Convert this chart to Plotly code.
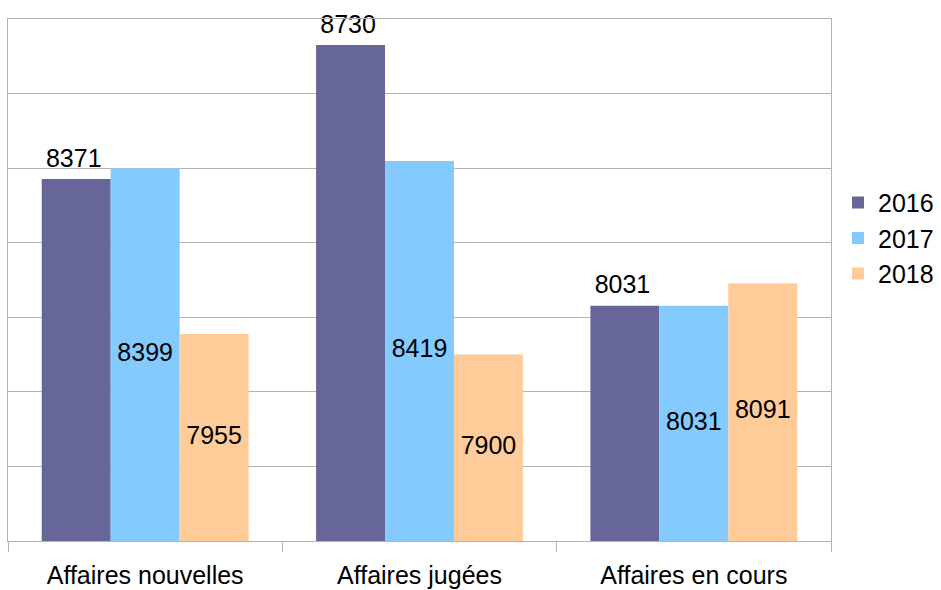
import plotly.graph_objects as go

categories = ["Affaires nouvelles", "Affaires jugées", "Affaires en cours"]
years = ["2016", "2017", "2018"]
values_2016 = [8371, 8730, 8031]
values_2017 = [8399, 8419, 8031]
values_2018 = [7955, 7900, 8091]
colors = ["#666699", "#83CAFF", "#FFCC99"]
y_min, y_max, y_step = 7400, 8800, 200

FONT = "Liberation Sans, Arial, sans-serif"
FS = 25
GAP = 0.246

series = [values_2016, values_2017, values_2018]

fig = go.Figure()
# bars (2016 labelled above its bars)
for i, (name, vals, col) in enumerate(zip(years, series, colors)):
    fig.add_trace(go.Bar(
        x=categories, y=vals, name=name,
        marker=dict(color=col, line=dict(width=0)),
        text=[str(v) + "<sub> </sub>" for v in vals] if i == 0 else None,
        textposition="outside" if i == 0 else "none",
        textfont=dict(family=FONT, size=FS, color="black"),
        cliponaxis=False,
    ))

# centred labels inside the 2017 and 2018 bars (grouped like the bars)
for i, (name, vals) in enumerate(zip(years, series)):
    fig.add_trace(go.Scatter(
        x=categories, y=[(y_min + v) / 2 for v in vals],
        mode="text",
        text=["" if i == 0 else str(v) for v in vals],
        textposition="middle center",
        textfont=dict(family=FONT, size=FS, color="black"),
        showlegend=False, hoverinfo="skip", name=name,
        cliponaxis=False,
    ))

fig.update_layout(
    width=941, height=590,
    margin=dict(l=7.5, r=110, t=18.5, b=49, autoexpand=False),
    barmode="group", bargap=GAP, bargroupgap=0,
    scattermode="group", scattergap=GAP,
    plot_bgcolor="white", paper_bgcolor="white",
    font=dict(family=FONT, size=FS, color="black"),
    showlegend=True,
    legend=dict(x=(838 - 7.5) / (941 - 7.5 - 110), y=0.58, yanchor="middle",
                font=dict(family=FONT, size=FS, color="black"),
                bgcolor="rgba(0,0,0,0)", itemwidth=30),
)
fig.update_xaxes(
    automargin=False,
    showgrid=False, showline=True, linecolor="#b3b3b3", linewidth=1, mirror=True,
    ticks="outside", tickson="boundaries", ticklen=10, tickcolor="#b3b3b3",
    ticklabelstandoff=12,
    tickfont=dict(family=FONT, size=FS, color="black"),
)
fig.update_yaxes(
    automargin=False,
    range=[y_min, y_max], dtick=y_step, showticklabels=False, ticks="",
    showgrid=True, gridcolor="#b3b3b3", gridwidth=1,
    showline=True, linecolor="#b3b3b3", linewidth=1, mirror=True, zeroline=False,
)

fig.write_html("out.html", config={"displayModeBar": False},
               post_script="document.body.style.margin='0';")
